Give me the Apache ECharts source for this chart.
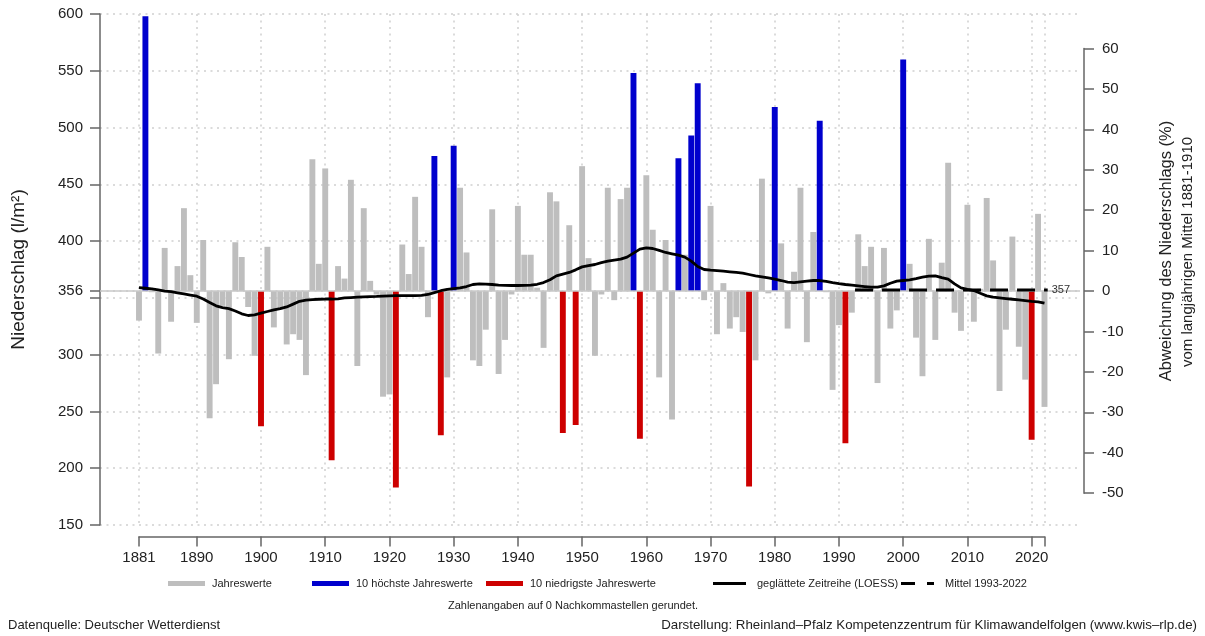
<!DOCTYPE html>
<html>
<head>
<meta charset="utf-8">
<script src="https://cdn.jsdelivr.net/npm/echarts@6/dist/echarts.min.js"></script>
<style>
  html, body { margin: 0; padding: 0; background: #fff; }
  #chart { width: 1205px; height: 636px; }
</style>
</head>
<body>
<div id="chart"></div>
<script>
// Jahresniederschlag 1881-2022 (l/m²), Abweichung vom Mittel 1881-1910
const startYear = 1881;
const precip = [
  330, 598, 355, 301, 394, 329, 378, 429, 370, 328,   // 1881-1890
  401, 244, 274, 343, 296, 399, 386, 342, 299, 237,   // 1891-1900
  395, 324, 340, 309, 318, 313, 282, 472, 380, 464,   // 1901-1910
  207, 378, 367, 454, 290, 429, 365, 353, 263, 265,   // 1911-1920
  183, 397, 371, 439, 395, 333, 475, 229, 280, 484,   // 1921-1930
  447, 390, 295, 290, 322, 428, 283, 313, 353, 431,   // 1931-1940
  388, 388, 359, 306, 443, 435, 231, 414, 238, 466,   // 1941-1950
  385, 299, 353, 447, 348, 437, 447, 548, 226, 458,   // 1951-1960
  410, 280, 401, 243, 473, 388, 493, 539, 348, 431,   // 1961-1970
  318, 363, 323, 333, 320, 184, 295, 455, 354, 518,   // 1971-1980
  398, 323, 373, 447, 311, 408, 506, 355, 269, 326,   // 1981-1990
  222, 337, 406, 378, 395, 275, 394, 323, 339, 560,   // 1991-2000
  380, 315, 281, 402, 313, 381, 469, 337, 321, 432,   // 2001-2010
  329, 358, 438, 383, 268, 322, 404, 307, 278, 225,   // 2011-2020
  424, 254                                            // 2021-2022
];
// geglaettete Zeitreihe (LOESS)
const loess = [
  359, 358.5, 358, 357, 356, 355.5, 354.5, 353.5, 352.5, 351.5,
  349, 346, 343, 341.5, 340.5, 338.5, 336, 334.5, 335, 336.5,
  338, 339.5, 340.5, 342, 344.5, 347, 348, 348.5, 348.8, 349,
  349, 349.2, 350, 350.3, 350.6, 350.9, 351.1, 351.3, 351.6, 351.8,
  352, 352, 352, 352, 352.2, 353, 354.7, 356.3, 357.5, 358.2,
  358.8, 360, 361.8, 362.3, 362.2, 361.8, 361.3, 361, 360.9, 360.9,
  361, 361.2, 362, 363.5, 366, 369.4, 371, 372.4, 374.7, 377.3,
  378.4, 379.4, 381, 382.4, 383.3, 384.1, 385.9, 389.4, 392.9, 394.1,
  393.5, 391.8, 390, 388.8, 387.6, 385.9, 382.4, 377.6, 375, 374.4,
  374, 373.5, 373, 372.4, 371.8, 370.6, 369.4, 368.5, 367.6, 366.5,
  365.3, 363.8, 363.5, 364.1, 364.7, 365.3, 365.3, 364.5, 363.5, 362.6,
  361.8, 361.2, 360.6, 360, 359.4, 359.4, 360.6, 362.9, 364.7, 365.3,
  365.9, 367, 368.2, 369.1, 369.4, 367.8, 366.5, 362.4, 358.8, 357.6,
  356.5, 354.1, 351.8, 350.6, 350, 349.4, 348.8, 348.2, 347.6, 347,
  346.5, 345.3
];
const highYears = [1882, 1927, 1930, 1958, 1965, 1967, 1968, 1980, 1987, 2000];
const lowYears = [1900, 1911, 1921, 1928, 1947, 1949, 1959, 1976, 1991, 2020];
const refMean = 356;            // Mittel 1881-1910
const recentMean = 357;         // Mittel 1993-2022
const recentPeriod = [1993, 2022];

const yearTicks = [1881, 1890, 1900, 1910, 1920, 1930, 1940, 1950, 1960, 1970, 1980, 1990, 2000, 2010, 2020, 2022];
const yearLabels = [1881, 1890, 1900, 1910, 1920, 1930, 1940, 1950, 1960, 1970, 1980, 1990, 2000, 2010, 2020];
const leftTicks = [150, 200, 250, 300, 350, 356, 400, 450, 500, 550, 600];
const leftLabels = [150, 200, 250, 300, 356, 400, 450, 500, 550, 600];

const FONT = "'Liberation Sans', Arial, sans-serif";
const AXIS_COL = '#666';
const TXT_COL = '#222';

// Plotbereich
const W = 1205, H = 636;
const gLeft = 100, gRight = 125, gTop = 14, gBottom = 111;
const xMin = 1874.93, xMax = 2027.53;
const yMin = 150, yMax = 600;
const pxPerYear = (W - gLeft - gRight) / (xMax - xMin);
const xPx = yr => gLeft + (yr - xMin) * pxPerYear;
const yPx = v => gTop + (yMax - v) * (H - gTop - gBottom) / (yMax - yMin);

const years = precip.map((_, i) => startYear + i);
const grayData = [], highData = [], lowData = [];
years.forEach((y, i) => {
  const p = [y, precip[i]];
  if (highYears.includes(y)) highData.push(p);
  else if (lowYears.includes(y)) lowData.push(p);
  else grayData.push(p);
});
const loessData = years.map((y, i) => [y, loess[i]]);
const meanData = [[recentPeriod[0] - 0.5, recentMean], [recentPeriod[1] + 0.5, recentMean]];

// Balken ab dem Referenzmittel
function renderBar(params, api) {
  const year = api.value(0);
  const top = api.coord([year, api.value(1)]);
  const base = api.coord([year, refMean]);
  const w = api.size([1, 0])[0] * 0.92;
  return {
    type: 'rect',
    shape: { x: top[0] - w / 2, y: Math.min(top[1], base[1]), width: w, height: Math.abs(base[1] - top[1]) },
    style: { fill: api.visual('color') }
  };
}

const dotted = { color: '#cfcfcf', width: 1.5, type: [2, 4.5] };
const axisLine = { show: true, onZero: false, lineStyle: { color: AXIS_COL, width: 1.5 } };
const legendBase = {
  padding: 0, itemGap: 0,
  textStyle: { fontFamily: FONT, fontSize: 11, color: TXT_COL, padding: [0, 0, 0, 2] }
};

const chart = echarts.init(document.getElementById('chart'));
chart.setOption({
  animation: false,
  backgroundColor: '#fff',
  textStyle: { fontFamily: FONT },
  grid: [
    { left: gLeft, right: gRight, top: gTop, bottom: gBottom },
    // Jahresachse: Linie von 1881 bis 2022, etwas unter dem Plotbereich
    { left: xPx(1881), right: W - xPx(2022), top: 400, bottom: H - 536.5 },
    // rechte Achse (%), -50 .. 60
    { left: gLeft, right: gRight, top: yPx(refMean * 1.6), bottom: H - yPx(refMean * 0.5) }
  ],
  xAxis: [
    {
      gridIndex: 0, type: 'value', min: xMin, max: xMax,
      axisLine: { show: false },
      axisTick: { show: false, customValues: yearTicks },
      axisLabel: { show: false },
      splitLine: { show: true, lineStyle: dotted }
    },
    {
      gridIndex: 1, type: 'value', min: 1881, max: 2022,
      axisLine: axisLine,
      axisTick: { show: true, length: 10, customValues: yearTicks, lineStyle: { color: AXIS_COL, width: 1.5 } },
      axisLabel: {
        customValues: yearLabels, showMinLabel: true, fontSize: 15, color: TXT_COL, margin: 14, fontFamily: FONT,
        formatter: v => String(v)
      },
      splitLine: { show: false }
    },
    { gridIndex: 2, type: 'value', min: 0, max: 1, show: false }
  ],
  yAxis: [
    {
      gridIndex: 0, type: 'value', min: yMin, max: yMax, interval: 50,
      name: 'Niederschlag (l/m²)', nameLocation: 'middle', nameGap: 72,
      nameTextStyle: { fontSize: 19, color: TXT_COL, fontFamily: FONT },
      axisLine: axisLine,
      axisTick: { show: true, length: 10, customValues: leftTicks, lineStyle: { color: AXIS_COL, width: 1.5 } },
      axisLabel: { customValues: leftLabels, fontSize: 15, color: TXT_COL, margin: 17, fontFamily: FONT },
      splitLine: { show: true, lineStyle: dotted }
    },
    { gridIndex: 1, type: 'value', min: 0, max: 1, show: false },
    {
      gridIndex: 2, type: 'value', position: 'right', offset: 4,
      min: -50, max: 60, interval: 10,
      axisLine: axisLine,
      axisTick: { show: true, length: 10, lineStyle: { color: AXIS_COL, width: 1.5 } },
      axisLabel: { fontSize: 15, color: TXT_COL, margin: 18, fontFamily: FONT },
      splitLine: { show: false }
    }
  ],
  legend: [
    Object.assign({ data: ['Jahreswerte'], left: 168, top: 578, icon: 'rect', itemWidth: 37, itemHeight: 5 }, legendBase),
    Object.assign({ data: ['10 höchste Jahreswerte'], left: 312, top: 578, icon: 'rect', itemWidth: 37, itemHeight: 5 }, legendBase),
    Object.assign({ data: ['10 niedrigste Jahreswerte'], left: 486, top: 578, icon: 'rect', itemWidth: 37, itemHeight: 5 }, legendBase),
    Object.assign({ data: ['geglättete Zeitreihe (LOESS)'], left: 713, top: 578, icon: 'rect', itemWidth: 33, itemHeight: 3 },
      legendBase, { textStyle: Object.assign({}, legendBase.textStyle, { padding: [0, 0, 0, 6] }) }),
    Object.assign({ data: ['Mittel 1993-2022'], left: 901, top: 578, icon: 'path://M0,0H14V3H0Z M26,0H33V3H26Z', itemWidth: 33, itemHeight: 3 },
      legendBase, { textStyle: Object.assign({}, legendBase.textStyle, { padding: [0, 0, 0, 6] }) })
  ],
  graphic: [
    {
      type: 'text', x: 1166, y: 251, rotation: Math.PI / 2,
      style: { text: 'Abweichung des Niederschlags (%)', fontSize: 16.5, fontFamily: FONT, fill: TXT_COL, align: 'center', verticalAlign: 'middle' }
    },
    {
      type: 'text', x: 1188, y: 252, rotation: Math.PI / 2,
      style: { text: 'vom langjährigen Mittel 1881-1910', fontSize: 15, fontFamily: FONT, fill: TXT_COL, align: 'center', verticalAlign: 'middle' }
    },
    {
      type: 'text', x: 573, y: 606,
      style: { text: 'Zahlenangaben auf 0 Nachkommastellen gerundet.', fontSize: 11, fontFamily: FONT, fill: TXT_COL, align: 'center', verticalAlign: 'middle' }
    },
    {
      type: 'text', x: 8, y: 625,
      style: { text: 'Datenquelle: Deutscher Wetterdienst', fontSize: 13, fontFamily: FONT, fill: TXT_COL, align: 'left', verticalAlign: 'middle' }
    },
    {
      type: 'text', x: 1197, y: 625,
      style: { text: 'Darstellung: Rheinland–Pfalz Kompetenzzentrum für Klimawandelfolgen (www.kwis–rlp.de)', fontSize: 13.3, fontFamily: FONT, fill: TXT_COL, align: 'right', verticalAlign: 'middle' }
    }
  ],
  series: [
    {
      name: 'Jahreswerte', type: 'custom', xAxisIndex: 0, yAxisIndex: 0,
      renderItem: renderBar, data: grayData, itemStyle: { color: '#bebebe' }, z: 2,
      encode: { x: 0, y: 1 },
      markLine: {
        silent: true, symbol: ['none', 'none'], label: { show: false },
        lineStyle: { color: '#c8c8c8', width: 1.5, type: 'solid' },
        data: [{ yAxis: refMean }]
      }
    },
    {
      name: '10 höchste Jahreswerte', type: 'custom', xAxisIndex: 0, yAxisIndex: 0,
      renderItem: renderBar, data: highData, itemStyle: { color: '#0000cd' }, z: 3,
      encode: { x: 0, y: 1 }
    },
    {
      name: '10 niedrigste Jahreswerte', type: 'custom', xAxisIndex: 0, yAxisIndex: 0,
      renderItem: renderBar, data: lowData, itemStyle: { color: '#cd0000' }, z: 3,
      encode: { x: 0, y: 1 }
    },
    {
      name: 'geglättete Zeitreihe (LOESS)', type: 'line', xAxisIndex: 0, yAxisIndex: 0,
      data: loessData, showSymbol: false, symbol: 'none', z: 5,
      itemStyle: { color: '#000' },
      lineStyle: { color: '#000', width: 2.8 }
    },
    {
      name: 'Mittel 1993-2022', type: 'line', xAxisIndex: 0, yAxisIndex: 0,
      data: meanData, showSymbol: false, symbol: 'none', z: 5,
      itemStyle: { color: '#000' },
      lineStyle: { color: '#000', width: 3, type: [18, 9] },
      endLabel: { show: true, formatter: () => String(recentMean), fontSize: 11, color: '#333', distance: 4, fontFamily: FONT }
    }
  ]
});
</script>
</body>
</html>
